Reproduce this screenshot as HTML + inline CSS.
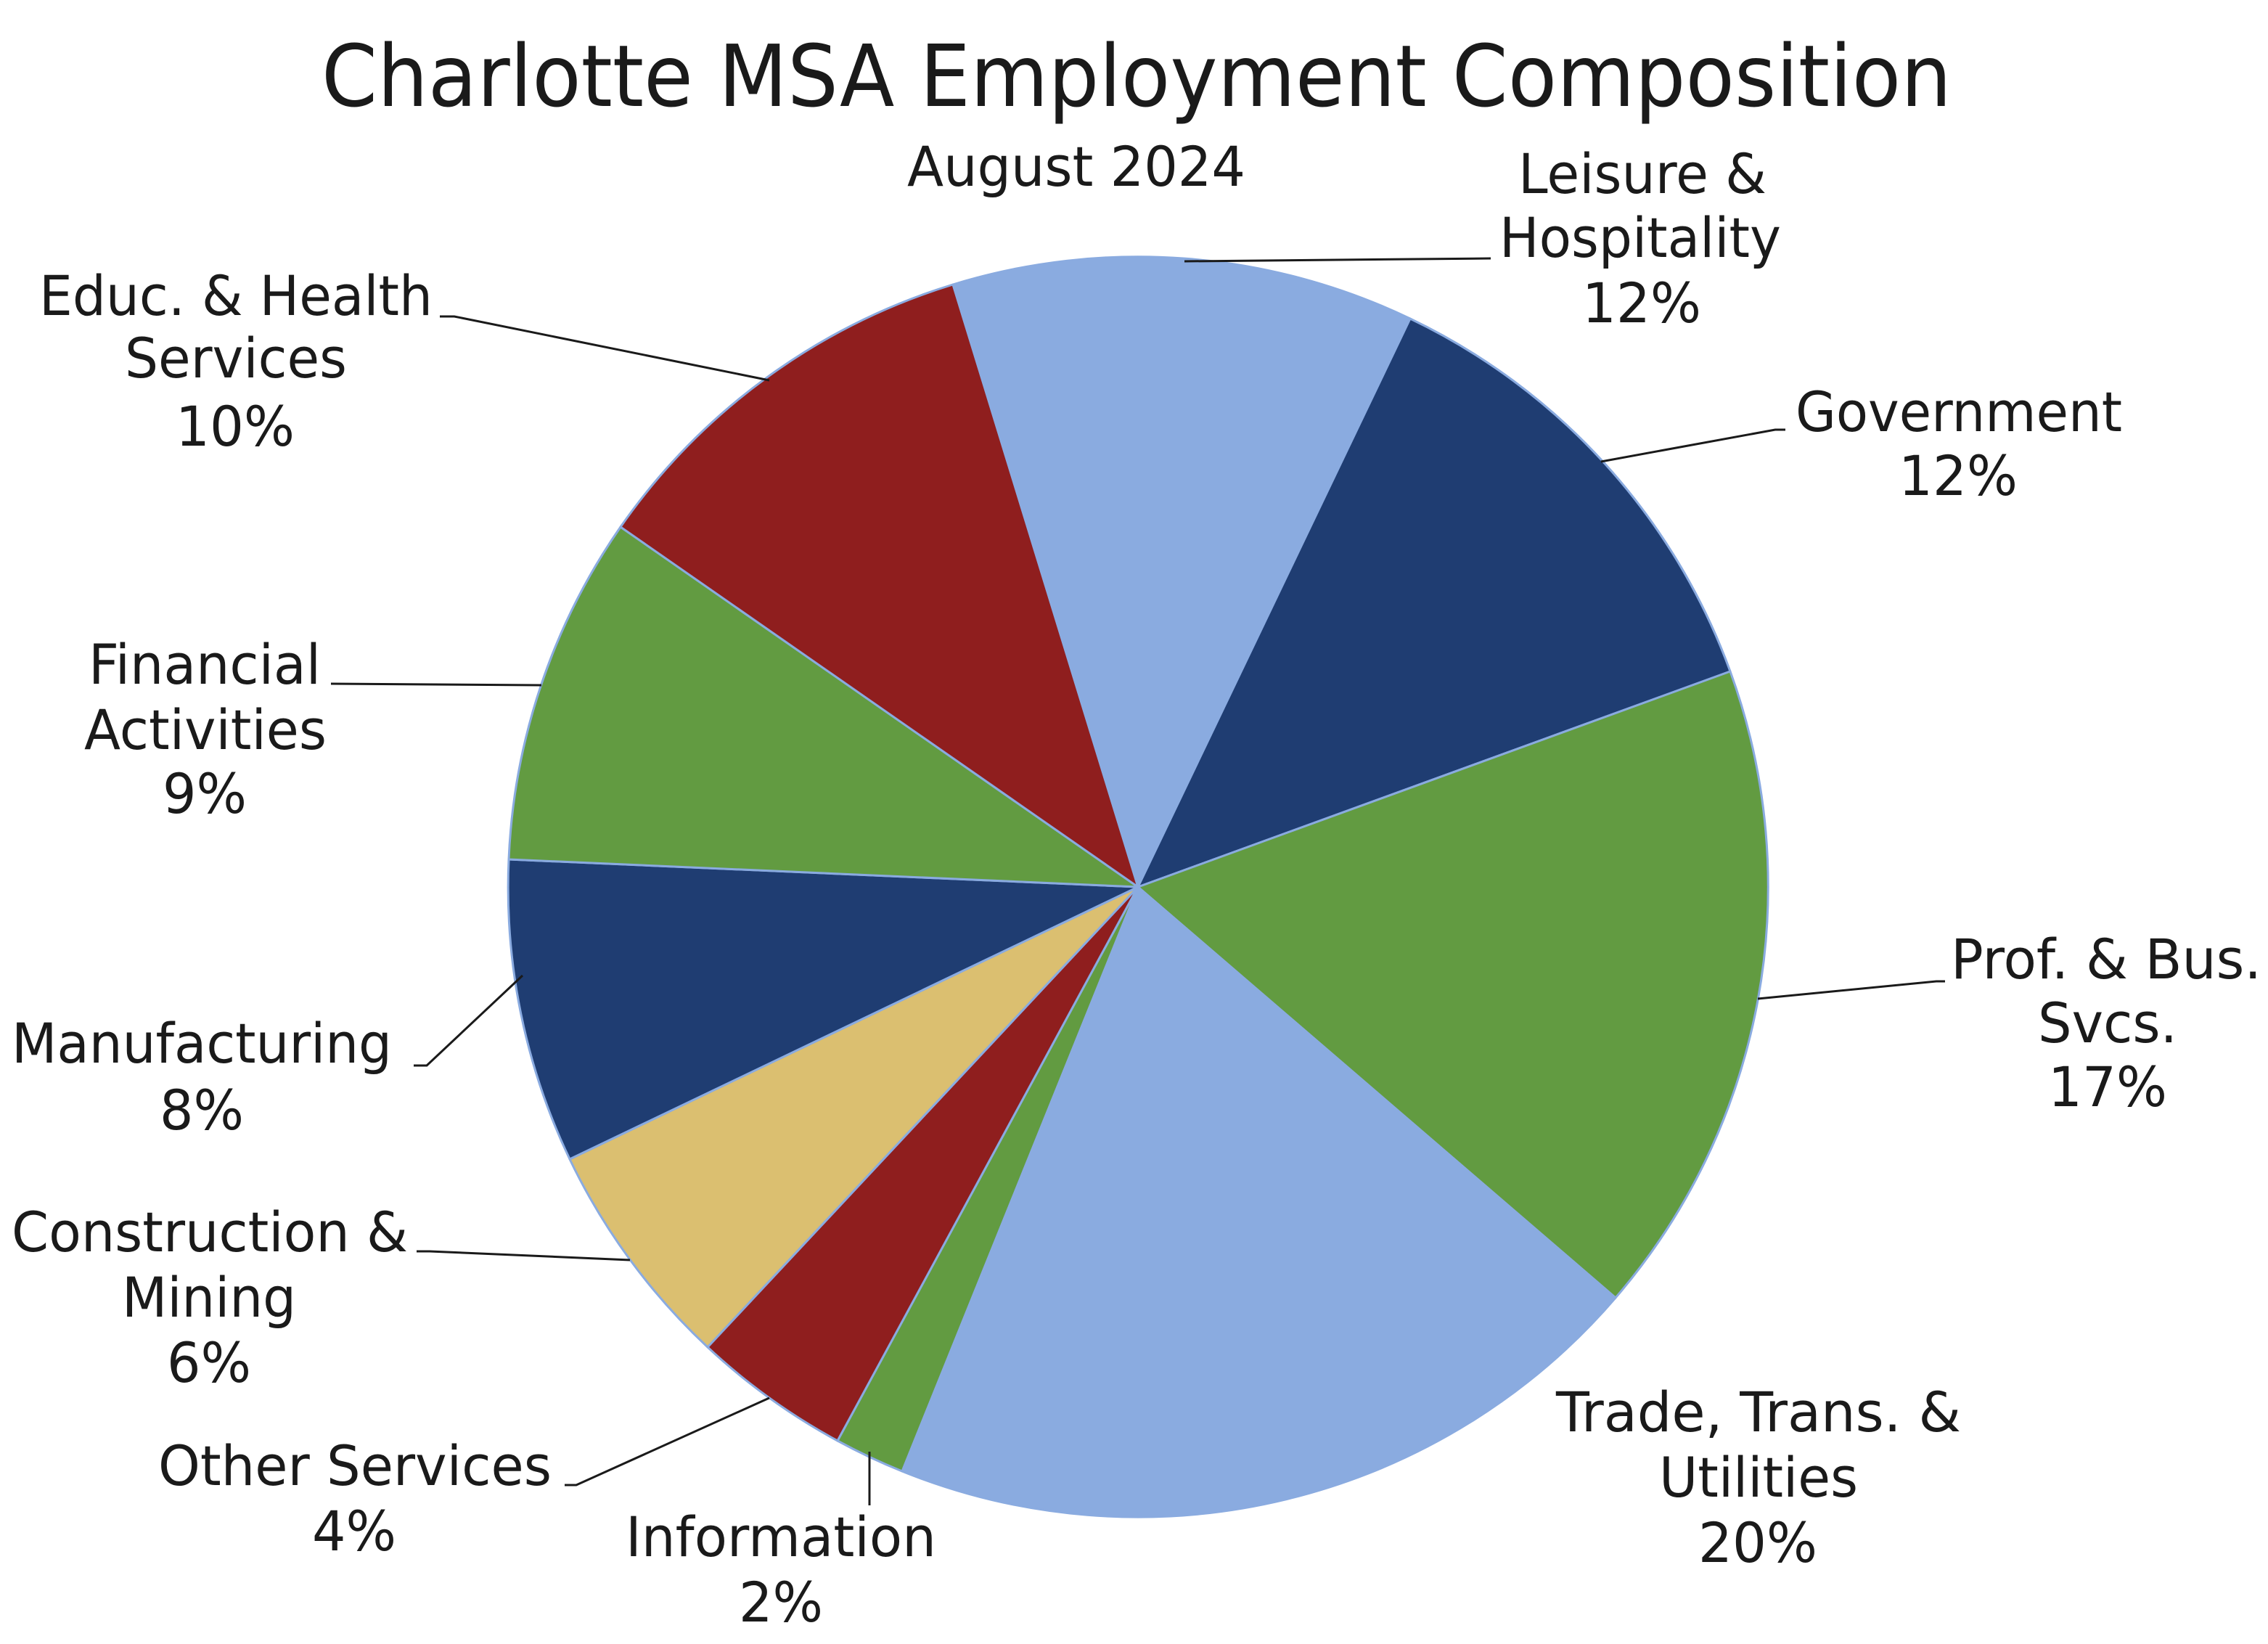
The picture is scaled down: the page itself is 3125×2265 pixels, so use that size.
<!DOCTYPE html>
<html><head><meta charset="utf-8"><style>
html,body{margin:0;padding:0;background:#fff;}
svg{display:block;}
text{font-family:"DejaVu Sans","Liberation Sans",sans-serif;fill:#1a1a1a;}
</style></head><body>
<svg width="3125" height="2265" viewBox="0 0 3125 2265" xmlns="http://www.w3.org/2000/svg">
<rect width="3125" height="2265" fill="#fff"/>
<g stroke="#8aabe0" stroke-width="3" stroke-linejoin="round">
<path d="M1568,1222 L1313,392 A868,868 0 0 1 1943,439 Z" fill="#8aabe0"/>
<path d="M1568,1222 L1943,439 A868,868 0 0 1 2384,925 Z" fill="#1f3d72"/>
<path d="M1568,1222 L2384,925 A868,868 0 0 1 2226,1788 Z" fill="#629b41"/>
<path d="M1568,1222 L2226,1788 A868,868 0 0 1 1243,2027 Z" fill="#8aabe0"/>
<path d="M1568,1222 L1243,2027 A868,868 0 0 1 1154,1985 Z" fill="#629b41"/>
<path d="M1568,1222 L1154,1985 A868,868 0 0 1 975,1856 Z" fill="#8f1e1e"/>
<path d="M1568,1222 L975,1856 A868,868 0 0 1 785,1597 Z" fill="#dbbf70"/>
<path d="M1568,1222 L785,1597 A868,868 0 0 1 701,1184 Z" fill="#1f3d72"/>
<path d="M1568,1222 L701,1184 A868,868 0 0 1 855,726 Z" fill="#629b41"/>
<path d="M1568,1222 L855,726 A868,868 0 0 1 1313,392 Z" fill="#8f1e1e"/>
</g>
<g stroke="#1a1a1a" stroke-width="3" fill="none">
<polyline points="1632,360 2054,356"/>
<polyline points="2206,636 2446,592 2460,592"/>
<polyline points="1060,524 626,436 606,436"/>
<polyline points="746,944 456,942"/>
<polyline points="2422,1376 2668,1352 2680,1352"/>
<polyline points="720,1344 588,1468 570,1468"/>
<polyline points="868,1736 592,1724 574,1724"/>
<polyline points="1060,1926 794,2046 778,2046"/>
<polyline points="1198,2000 1198,2074"/>
</g>
<text x="1566" y="146" font-size="118" text-anchor="middle" textLength="2246" lengthAdjust="spacingAndGlyphs">Charlotte MSA Employment Composition</text>
<g font-size="76" text-anchor="middle">
<text x="1483" y="256" textLength="466" lengthAdjust="spacingAndGlyphs">August 2024</text>
<text x="2263" y="266" textLength="342" lengthAdjust="spacingAndGlyphs">Leisure &amp;</text>
<text x="2260" y="354" textLength="388" lengthAdjust="spacingAndGlyphs">Hospitality</text>
<text x="2262" y="444" textLength="164" lengthAdjust="spacingAndGlyphs">12%</text>
<text x="2699" y="594" textLength="450" lengthAdjust="spacingAndGlyphs">Government</text>
<text x="2698" y="682" textLength="164" lengthAdjust="spacingAndGlyphs">12%</text>
<text x="325" y="434" textLength="542" lengthAdjust="spacingAndGlyphs">Educ. &amp; Health</text>
<text x="325" y="520" textLength="306" lengthAdjust="spacingAndGlyphs">Services</text>
<text x="324" y="614" textLength="164" lengthAdjust="spacingAndGlyphs">10%</text>
<text x="282" y="942" textLength="320" lengthAdjust="spacingAndGlyphs">Financial</text>
<text x="283" y="1032" textLength="334" lengthAdjust="spacingAndGlyphs">Activities</text>
<text x="282" y="1120" textLength="116" lengthAdjust="spacingAndGlyphs">9%</text>
<text x="2902" y="1348" textLength="428" lengthAdjust="spacingAndGlyphs">Prof. &amp; Bus.</text>
<text x="2904" y="1436" textLength="192" lengthAdjust="spacingAndGlyphs">Svcs.</text>
<text x="2904" y="1524" textLength="164" lengthAdjust="spacingAndGlyphs">17%</text>
<text x="278" y="1464" textLength="524" lengthAdjust="spacingAndGlyphs">Manufacturing</text>
<text x="278" y="1556" textLength="116" lengthAdjust="spacingAndGlyphs">8%</text>
<text x="289" y="1724" textLength="546" lengthAdjust="spacingAndGlyphs">Construction &amp;</text>
<text x="288" y="1814" textLength="240" lengthAdjust="spacingAndGlyphs">Mining</text>
<text x="288" y="1904" textLength="116" lengthAdjust="spacingAndGlyphs">6%</text>
<text x="2423" y="1972" textLength="558" lengthAdjust="spacingAndGlyphs">Trade, Trans. &amp;</text>
<text x="2423" y="2062" textLength="274" lengthAdjust="spacingAndGlyphs">Utilities</text>
<text x="2422" y="2152" textLength="164" lengthAdjust="spacingAndGlyphs">20%</text>
<text x="489" y="2046" textLength="542" lengthAdjust="spacingAndGlyphs">Other Services</text>
<text x="488" y="2136" textLength="116" lengthAdjust="spacingAndGlyphs">4%</text>
<text x="1076" y="2144" textLength="428" lengthAdjust="spacingAndGlyphs">Information</text>
<text x="1076" y="2234" textLength="116" lengthAdjust="spacingAndGlyphs">2%</text>
</g>
</svg>
</body></html>
